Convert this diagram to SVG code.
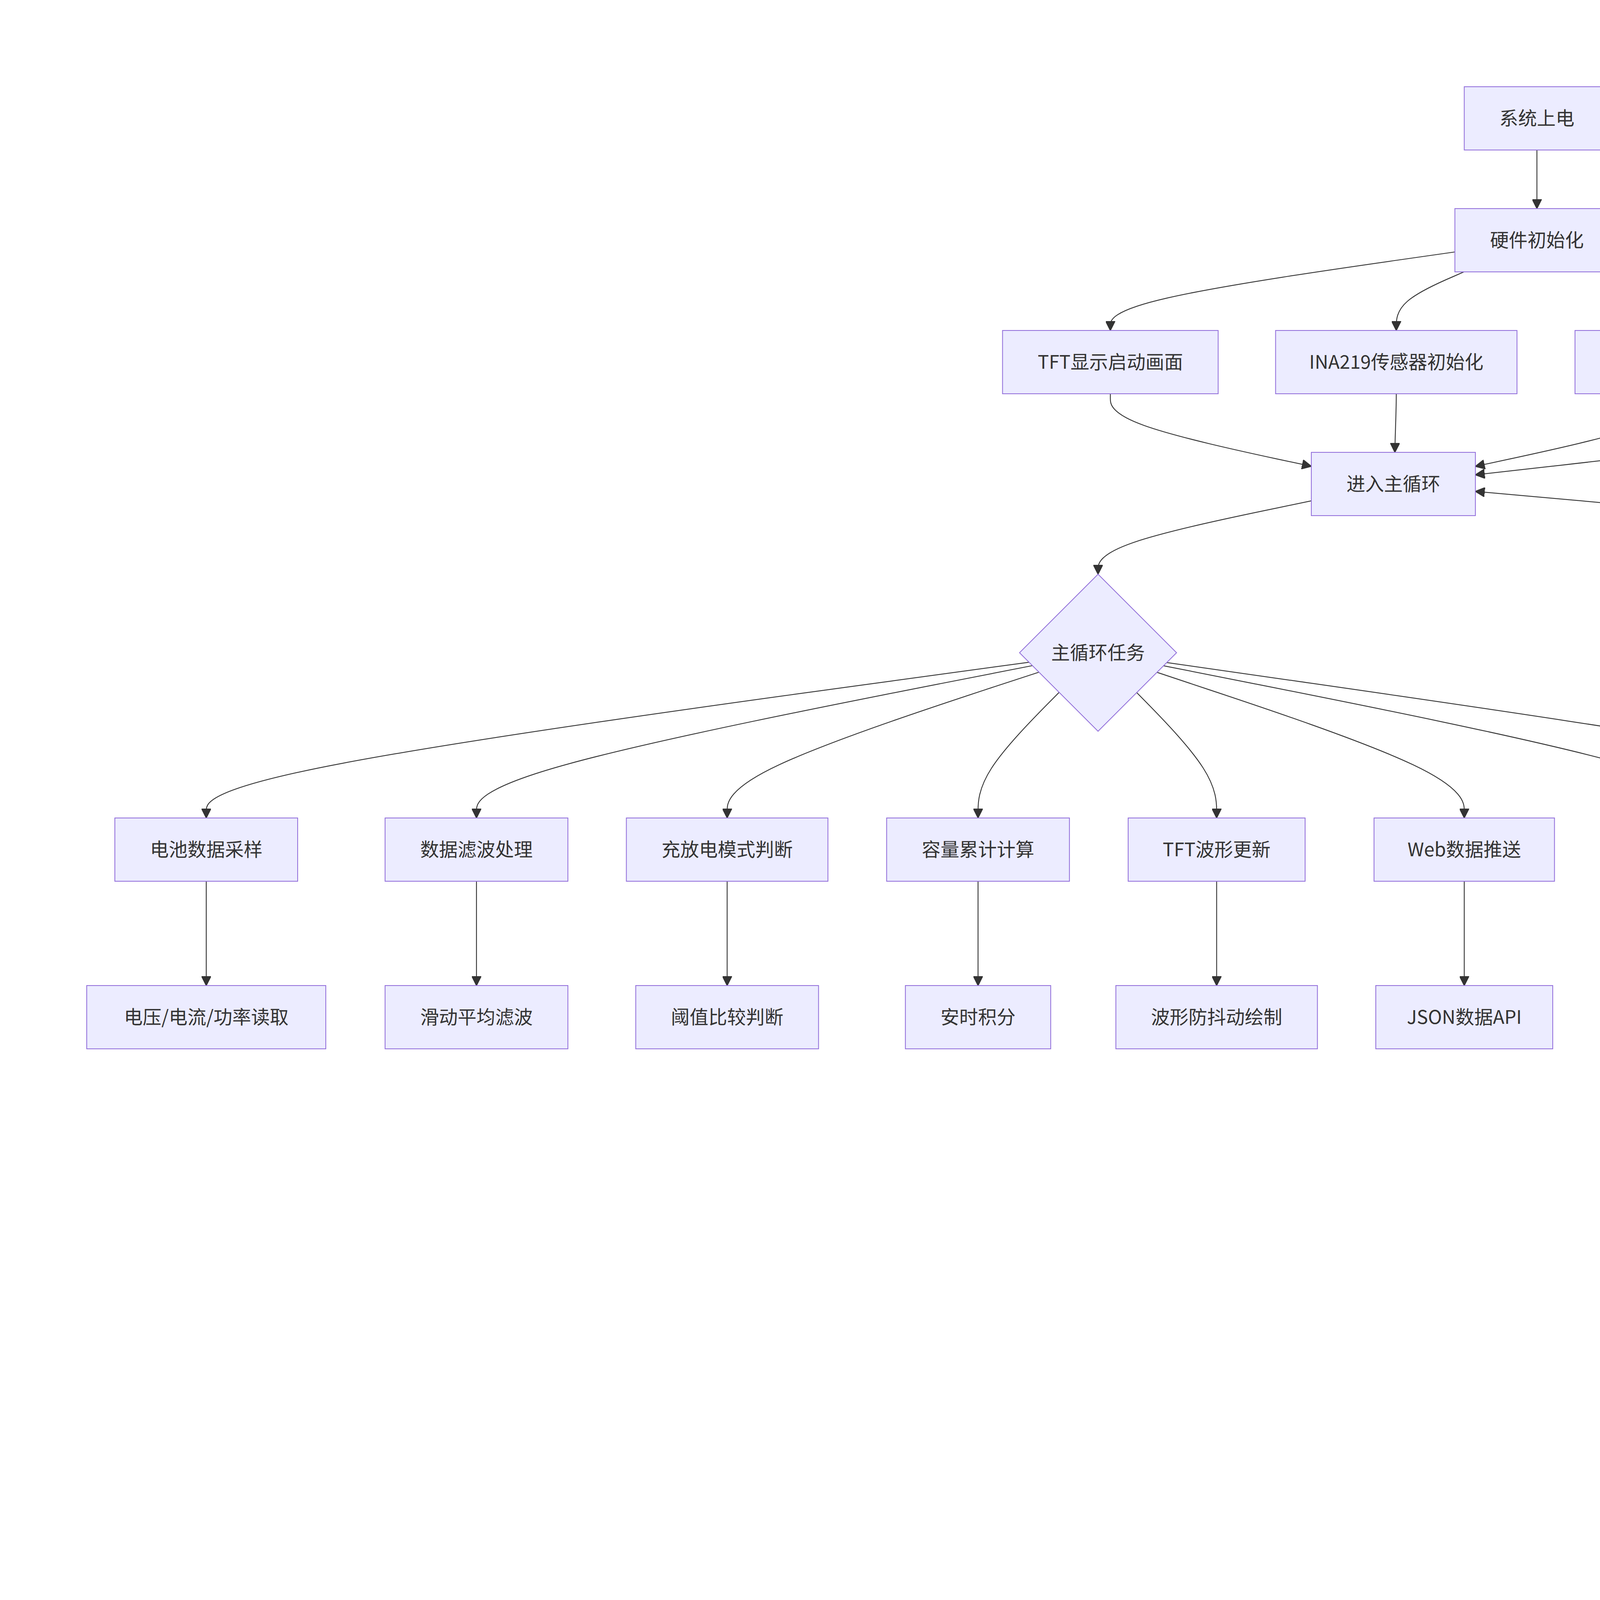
<svg xmlns="http://www.w3.org/2000/svg" width="5602" height="4343" viewBox="0 0 5602 4343">
<defs>
<style>
.node rect,.node polygon{fill:#ECECFF;stroke:#9370DB;stroke-width:0.7}
.node text,.lbl text{font-family:"Noto Sans CJK SC","Noto Sans",sans-serif;font-size:16px;fill:#333333;text-anchor:middle}
.edge{fill:none;stroke:#333333;stroke-width:0.75}
.lbl rect{fill:#e8e8e8;opacity:0.8}
</style>
<marker id="arrow" viewBox="0 0 10 10" refX="10" refY="5" markerUnits="userSpaceOnUse" markerWidth="8" markerHeight="8" orient="auto">
<path d="M0,0 L10,5 L0,10 z" fill="#333333" stroke="#333333" stroke-width="1"/>
</marker>
</defs>
<rect x="0" y="0" width="5602" height="4343" fill="#ffffff"/>
<g transform="scale(3)">
<g id="connectors">
<path class="edge" marker-end="url(#arrow)" d="M1311.5,128 L1311.5,178"/>
<path class="edge" marker-end="url(#arrow)" d="M1241.5,215 L1192.5,222 C1143.5,229 1045.5,243 996.5,254.2 C947.5,265.3 947.5,273.7 947.5,277.8 L947.5,282"/>
<path class="edge" marker-end="url(#arrow)" d="M1249.2,232 L1239.6,236.2 C1230,240.3 1210.7,248.7 1201.1,257 C1191.5,265.3 1191.5,273.7 1191.5,277.8 L1191.5,282"/>
<path class="edge" marker-end="url(#arrow)" d="M1373.6,232 L1383.1,236.2 C1392.7,240.3 1411.9,248.7 1421.4,257 C1431,265.3 1431,273.7 1431,277.8 L1431,282"/>
<path class="edge" marker-end="url(#arrow)" d="M1381.5,215.7 L1426.8,222.6 C1472,229.4 1562.5,243.2 1607.8,254.3 C1653,265.3 1653,273.7 1653,277.8 L1653,282"/>
<path class="edge" marker-end="url(#arrow)" d="M947.5,336 L947.5,340.2 C947.5,344.3 947.5,352.7 976.1,363 C1004.7,373.3 1061.8,385.6 1090.4,391.8 L1119,397.9"/>
<path class="edge" marker-end="url(#arrow)" d="M1191.5,336 C1191.5,352 1190.5,370 1190.3,386"/>
<path class="edge" marker-end="url(#arrow)" d="M1431,336 L1431,340.2 C1431,344.3 1431,352.7 1402.3,363 C1373.7,373.3 1316.3,385.6 1287.7,391.8 L1259,398"/>
<path class="edge" marker-end="url(#arrow)" d="M1653,336 L1653,340.2 C1653,344.3 1653,352.7 1587.3,364.2 C1521.7,375.7 1390.3,390.4 1324.7,397.8 L1259,405.2"/>
<path class="edge" marker-end="url(#arrow)" d="M1119,427.4 L1088.7,433.7 C1058.3,440 997.7,452.5 967.3,462.9 C937,473.3 937,481.7 937,485.8 L937,490"/>
<path class="edge" marker-end="url(#arrow)" d="M878.1,565.1 L761,581.1 C644,597 410,629 293,651.2 C176,673.3 176,685.7 176,691.8 L176,698"/>
<path class="edge" marker-end="url(#arrow)" d="M881,568 L801.9,583.5 C722.9,599 564.7,630 485.7,651.7 C406.6,673.3 406.6,685.7 406.6,691.8 L406.6,698"/>
<path class="edge" marker-end="url(#arrow)" d="M886.6,573.6 L842.2,588.1 C797.9,602.7 709.2,631.9 664.9,652.6 C620.5,673.3 620.5,685.7 620.5,691.8 L620.5,698"/>
<path class="edge" marker-end="url(#arrow)" d="M903.8,590.8 L892.2,602.5 C880.7,614.2 857.7,637.6 846.1,655.5 C834.6,673.3 834.6,685.7 834.6,691.8 L834.6,698"/>
<path class="edge" marker-end="url(#arrow)" d="M970,591 L981.4,602.6 C992.8,614.3 1015.5,637.7 1026.8,655.5 C1038.2,673.3 1038.2,685.7 1038.2,691.8 L1038.2,698"/>
<path class="edge" marker-end="url(#arrow)" d="M987.3,573.7 L1031,588.3 C1074.7,602.8 1162.1,631.9 1205.8,652.6 C1249.5,673.3 1249.5,685.7 1249.5,691.8 L1249.5,698"/>
<path class="edge" marker-end="url(#arrow)" d="M992.9,568.1 L1071.1,583.6 C1149.4,599.1 1305.8,630 1384,651.7 C1462.2,673.3 1462.2,685.7 1462.2,691.8 L1462.2,698"/>
<path class="edge" marker-end="url(#arrow)" d="M995.6,565.4 L1106.9,581.3 C1218.1,597.3 1440.7,629.1 1551.9,651.2 C1663.2,673.3 1663.2,685.7 1663.2,691.8 L1663.2,698"/>
<path class="edge" marker-end="url(#arrow)" d="M176,752 L176,841"/>
<path class="edge" marker-end="url(#arrow)" d="M406.6,752 L406.6,841"/>
<path class="edge" marker-end="url(#arrow)" d="M620.5,752 L620.5,841"/>
<path class="edge" marker-end="url(#arrow)" d="M834.6,752 L834.6,841"/>
<path class="edge" marker-end="url(#arrow)" d="M1038.2,752 L1038.2,841"/>
<path class="edge" marker-end="url(#arrow)" d="M1249.5,752 L1249.5,841"/>
<path class="edge" marker-end="url(#arrow)" d="M1462.2,752 L1462.2,841"/>
<path class="edge" marker-end="url(#arrow)" d="M1663.2,752 L1663.2,759.5 C1663.2,767 1663.2,782 1667.3,795 C1671.4,808.1 1679.6,819.1 1683.7,824.6 L1687.9,830.2"/>
<path class="edge" marker-end="url(#arrow)" d="M1716,934 L1716,1008"/>
<path class="edge" marker-end="url(#arrow)" d="M1743.9,829.9 L1747.9,824.4 C1751.9,818.9 1760,808 1764,790.5 C1768,773 1768,749 1768,726.3 C1768,703.7 1768,682.3 1768,654.3 C1768,626.3 1768,591.7 1768,559 C1768,526.3 1768,495.7 1683.2,472.7 C1598.3,449.8 1428.7,434.5 1343.8,426.9 L1259,419.3"/>
<path class="edge" marker-end="url(#arrow)" d="M1716,1062 L1716,1112"/>
<path class="edge" marker-end="url(#arrow)" d="M1716,1166 L1716,1216"/>
<path class="edge" marker-end="url(#arrow)" d="M1716,1270 L1716,1320"/>
<g class="lbl" id="label-no"><rect x="1760" y="649" width="16" height="24"/><text x="1768" y="666.5">否</text></g>
<g class="lbl" id="label-yes"><rect x="1708" y="959" width="16" height="24"/><text x="1716" y="976.5">是</text></g>
</g>
<g id="n-power" class="node"><rect x="1249.5" y="74" width="124" height="54"/><text x="1311.5" y="106.5">系统上电</text></g>
<g id="n-hwinit" class="node"><rect x="1241.5" y="178" width="140" height="54"/><text x="1311.5" y="210.5">硬件初始化</text></g>
<g id="n-tft" class="node"><rect x="855.5" y="282" width="184" height="54"/><text x="947.5" y="314.5">TFT显示启动画面</text></g>
<g id="n-ina" class="node"><rect x="1088.5" y="282" width="206" height="54"/><text x="1191.5" y="314.5">INA219传感器初始化</text></g>
<g id="n-pwm" class="node"><rect x="1344" y="282" width="174" height="54"/><text x="1431" y="314.5">PWM风扇初始化</text></g>
<g id="n-web" class="node"><rect x="1567.5" y="282" width="171" height="54"/><text x="1653" y="314.5">Web服务器启动</text></g>
<g id="n-loop" class="node"><rect x="1119" y="386" width="140" height="54"/><text x="1189" y="418.5">进入主循环</text></g>
<g id="n-task" class="node"><polygon points="937,490 1004,557 937,624 870,557"/><text x="937" y="562.5">主循环任务</text></g>
<g id="n-sample" class="node"><rect x="98" y="698" width="156" height="54"/><text x="176" y="730.5">电池数据采样</text></g>
<g id="n-filter" class="node"><rect x="328.6" y="698" width="156" height="54"/><text x="406.6" y="730.5">数据滤波处理</text></g>
<g id="n-mode" class="node"><rect x="534.5" y="698" width="172" height="54"/><text x="620.5" y="730.5">充放电模式判断</text></g>
<g id="n-cap" class="node"><rect x="756.6" y="698" width="156" height="54"/><text x="834.6" y="730.5">容量累计计算</text></g>
<g id="n-wave" class="node"><rect x="962.7" y="698" width="151" height="54"/><text x="1038.2" y="730.5">TFT波形更新</text></g>
<g id="n-push" class="node"><rect x="1172.5" y="698" width="154" height="54"/><text x="1249.5" y="730.5">Web数据推送</text></g>
<g id="n-fan" class="node"><rect x="1383.2" y="698" width="158" height="54"/><text x="1462.2" y="730.5">风扇PWM控制</text></g>
<g id="n-low" class="node"><rect x="1593.2" y="698" width="140" height="54"/><text x="1663.2" y="730.5">低电压检测</text></g>
<g id="n-read" class="node"><rect x="74" y="841" width="204" height="54"/><text x="176" y="873.5">电压/电流/功率读取</text></g>
<g id="n-avg" class="node"><rect x="328.6" y="841" width="156" height="54"/><text x="406.6" y="873.5">滑动平均滤波</text></g>
<g id="n-thr" class="node"><rect x="542.5" y="841" width="156" height="54"/><text x="620.5" y="873.5">阈值比较判断</text></g>
<g id="n-ah" class="node"><rect x="772.6" y="841" width="124" height="54"/><text x="834.6" y="873.5">安时积分</text></g>
<g id="n-draw" class="node"><rect x="952.2" y="841" width="172" height="54"/><text x="1038.2" y="873.5">波形防抖动绘制</text></g>
<g id="n-json" class="node"><rect x="1174" y="841" width="151" height="54"/><text x="1249.5" y="873.5">JSON数据API</text></g>
<g id="n-tri" class="node"><rect x="1375.2" y="841" width="174" height="54"/><text x="1462.2" y="873.5">三角波PWM生成</text></g>
<g id="n-volt" class="node"><polygon points="1716,802 1782,868 1716,934 1650,868"/><text x="1716" y="873.5">电压&lt;2.9V?</text></g>
<g id="n-prot" class="node"><rect x="1654" y="1008" width="124" height="54"/><text x="1716" y="1040.5">触发保护</text></g>
<g id="n-stop" class="node"><rect x="1654" y="1112" width="124" height="54"/><text x="1716" y="1144.5">停止风扇</text></g>
<g id="n-warn" class="node"><rect x="1638" y="1216" width="156" height="54"/><text x="1716" y="1248.5">显示警告画面</text></g>
<g id="n-lock" class="node"><rect x="1654" y="1320" width="124" height="54"/><text x="1716" y="1352.5">系统锁定</text></g>
</g>
</svg>
